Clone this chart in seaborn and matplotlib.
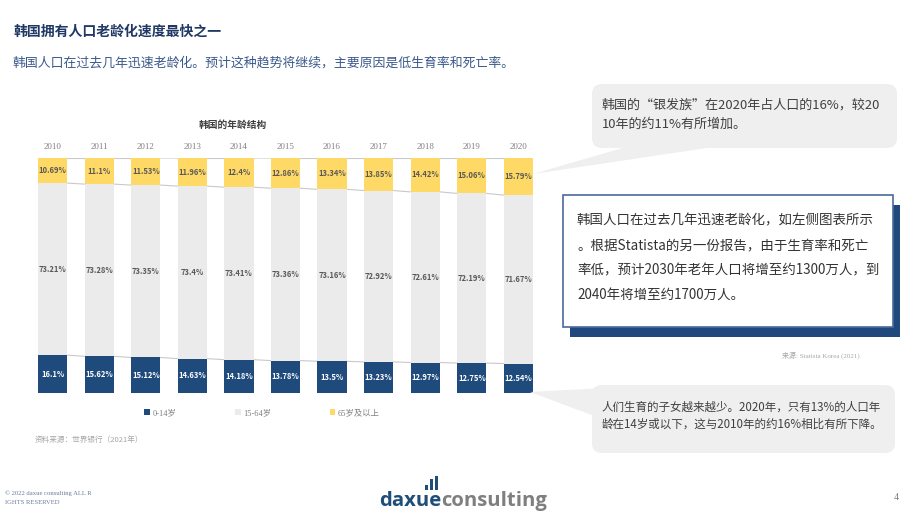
#!/usr/bin/env python3
import matplotlib
matplotlib.use("Agg")
import matplotlib.pyplot as plt
from matplotlib.patches import FancyBboxPatch, Rectangle, Polygon
from matplotlib.transforms import IdentityTransform
import seaborn as sns
import pandas as pd

# Korea age structure (% of population)
YEARS = [str(y) for y in range(2010, 2021)]
AGE_0_14 = [16.1, 15.62, 15.12, 14.63, 14.18, 13.78, 13.5, 13.23, 12.97, 12.75, 12.54]
AGE_15_64 = [73.21, 73.28, 73.35, 73.4, 73.41, 73.36, 73.16, 72.92, 72.61, 72.19, 71.67]
AGE_65_PLUS = [10.69, 11.1, 11.53, 11.96, 12.4, 12.86, 13.34, 13.85, 14.42, 15.06, 15.79]
SERIES_NAMES = ["0-14岁", "15-64岁", "65岁及以上"]

BLUE = "#1f4a7c"
GREY = "#ebebeb"
YELLOW = "#ffd966"
NAVY = "#1f3864"
TEXT = "#404040"
CJK = ["Noto Sans CJK SC", "DejaVu Sans"]
SERIF = ["Liberation Serif", "Noto Sans CJK SC"]

W, H = 920, 518
BAR_W = 0.63


def fx(x):
    return x / W


def fy(y):
    return 1 - y / H


def main():
    sns.set_theme(style="white")
    plt.rcParams["font.family"] = CJK

    df = pd.DataFrame({"year": YEARS, "young": AGE_0_14,
                       "working": AGE_15_64, "old": AGE_65_PLUS})
    df["total"] = df["young"] + df["working"] + df["old"]
    df["lower"] = df["young"] + df["working"]

    fig = plt.figure(figsize=(W / 100, H / 100), dpi=100)
    fig.patch.set_facecolor("white")
    px = IdentityTransform()

    ax = fig.add_axes([fx(38), fy(393), (533 - 38) / W, (393 - 158) / H])

    # stacked bars by overdrawing cumulative heights
    layers = [("total", YELLOW, SERIES_NAMES[2]),
              ("lower", GREY, SERIES_NAMES[1]),
              ("young", BLUE, SERIES_NAMES[0])]
    for col, color, name in layers:
        sns.barplot(data=df, x="year", y=col, color=color, width=BAR_W,
                    saturation=1, label=name, linewidth=0, ax=ax)

    # series lines joining the segment borders of neighbouring bars
    half = BAR_W / 2
    for col in ["total", "lower", "young"]:
        vals = df[col].to_numpy()
        for i in range(len(vals) - 1):
            ax.plot([i + half, i + 1 - half], [vals[i], vals[i + 1]],
                    color="#c9c9c9", lw=0.8, zorder=0.5)

    # data labels
    for i, row in df.iterrows():
        ax.text(i, row["lower"] + row["old"] / 2, f"{row['old']:g}%",
                ha="center", va="center", fontsize=5.5, color="#595959",
                fontweight="bold")
        ax.text(i, row["young"] + row["working"] / 2, f"{row['working']:g}%",
                ha="center", va="center", fontsize=5.5, color="#595959",
                fontweight="bold")
        ax.text(i, row["young"] / 2, f"{row['young']:g}%",
                ha="center", va="center", fontsize=5.5, color="white",
                fontweight="bold")

    ax.set_xlim(-half, len(YEARS) - 1 + half)
    ax.set_ylim(0, 100)
    ax.xaxis.tick_top()
    ax.tick_params(axis="x", length=0, pad=5, labelsize=6.5,
                   labelcolor="#808080")
    for lab in ax.get_xticklabels():
        lab.set_family(SERIF)
    ax.set_yticks([])
    ax.set_xlabel("")
    ax.set_ylabel("")
    sns.despine(ax=ax, left=True, bottom=True, top=True, right=True)

    handles, labels = ax.get_legend_handles_labels()
    if ax.get_legend() is not None:
        ax.get_legend().remove()
    fig.legend(handles[::-1], labels[::-1], loc="center",
               bbox_to_anchor=(fx(262), fy(413)), ncol=3, frameon=False,
               handlelength=0.7, handleheight=0.7, handletextpad=0.3,
               columnspacing=7, labelcolor="#7f7f7f",
               prop=dict(family=SERIF, size=6))

    fig.text(fx(233), fy(125), "韩国的年龄结构", ha="center", va="center",
             fontsize=7, fontweight="bold", color=TEXT)
    fig.text(fx(35), fy(440), "资料来源：世界银行（2021年）", ha="left",
             va="center", fontsize=5.5, color="#a6a6a6")

    # header
    fig.text(fx(14), fy(32), "韩国拥有人口老龄化速度最快之一", ha="left",
             va="center", fontsize=10, fontweight="bold", color=NAVY)
    fig.text(fx(13), fy(63),
             "韩国人口在过去几年迅速老龄化。预计这种趋势将继续，主要原因是低生育率和死亡率。",
             ha="left", va="center", fontsize=9.3, color="#3b5a8c")

    # callout top right
    fig.add_artist(Polygon([(533, H - 174), (650, H - 140), (760, H - 140)],
                           closed=True, fc="#efefef", ec="none",
                           transform=px))
    fig.add_artist(FancyBboxPatch((592, H - 148), 305, 64,
                                  boxstyle="round,pad=0,rounding_size=10",
                                  fc="#efefef", ec="none", transform=px))
    for y, line in [(105, "韩国的“银发族”在2020年占人口的16%，较20"),
                    (124, "10年的约11%有所增加。")]:
        fig.text(fx(602), fy(y), line, ha="left", va="center",
                 fontsize=9.4, color=TEXT)

    # boxed note with shadow
    fig.add_artist(Rectangle((570, H - 337), 330, 132, fc="#1f497d",
                             ec="none", transform=px))
    fig.add_artist(Rectangle((563, H - 327), 330, 132, fc="white",
                             ec="#4a6a9c", lw=1.2, transform=px))
    box_lines = ["韩国人口在过去几年迅速老龄化，如左侧图表所示",
                 "。根据Statista的另一份报告，由于生育率和死亡",
                 "率低，预计2030年老年人口将增至约1300万人，到",
                 "2040年将增至约1700万人。"]
    for k, line in enumerate(box_lines):
        fig.text(fx(577), fy(220 + 25 * k), line, ha="left", va="center",
                 fontsize=9.7, color="#333333")
    fig.text(fx(860), fy(355), "来源: Statista Korea (2021)", ha="right",
             va="center", fontsize=5, color="#a6a6a6", family=SERIF)

    # callout bottom right
    fig.add_artist(Polygon([(530, H - 392), (605, H - 388), (605, H - 420)],
                           closed=True, fc="#efefef", ec="none",
                           transform=px))
    fig.add_artist(FancyBboxPatch((592, H - 453), 303, 68,
                                  boxstyle="round,pad=0,rounding_size=10",
                                  fc="#efefef", ec="none", transform=px))
    for y, line in [(407, "人们生育的子女越来越少。2020年，只有13%的人口年"),
                    (424, "龄在14岁或以下，这与2010年的约16%相比有所下降。")]:
        fig.text(fx(602), fy(y), line, ha="left", va="center",
                 fontsize=8.3, color=TEXT)

    # footer
    fig.text(fx(5), fy(493), "© 2022 daxue consulting ALL R", ha="left",
             va="center", fontsize=4.8, color="#6b7b9a", family=SERIF)
    fig.text(fx(5), fy(503), "IGHTS RESERVED", ha="left",
             va="center", fontsize=4.8, color="#6b7b9a", family=SERIF)
    fig.text(fx(896), fy(497), "4", ha="center", va="center",
             fontsize=7, color="#808080", family=SERIF)
    t = fig.text(fx(379), fy(506), "daxue", ha="left", va="baseline",
                 fontsize=14.6, fontweight="bold", color="#1f4e79",
                 family=["Open Sans", "DejaVu Sans"])
    fig.canvas.draw()
    bb = t.get_window_extent()
    fig.text(bb.x1 / W, fy(506), "consulting", ha="left", va="baseline",
             fontsize=14.6, fontweight="bold", color="#7f7f7f",
             family=["Open Sans", "DejaVu Sans"])
    # small bar icon of the logo
    for dx, top in [(0, 485), (5, 479), (10, 476)]:
        fig.add_artist(Rectangle((bb.x1 - 16 + dx, H - 490), 2.3, 490 - top,
                                 fc="#1f4e79", ec="none", transform=px))

    fig.savefig("out.png", dpi=100, facecolor="white")
    plt.close(fig)


if __name__ == "__main__":
    main()
